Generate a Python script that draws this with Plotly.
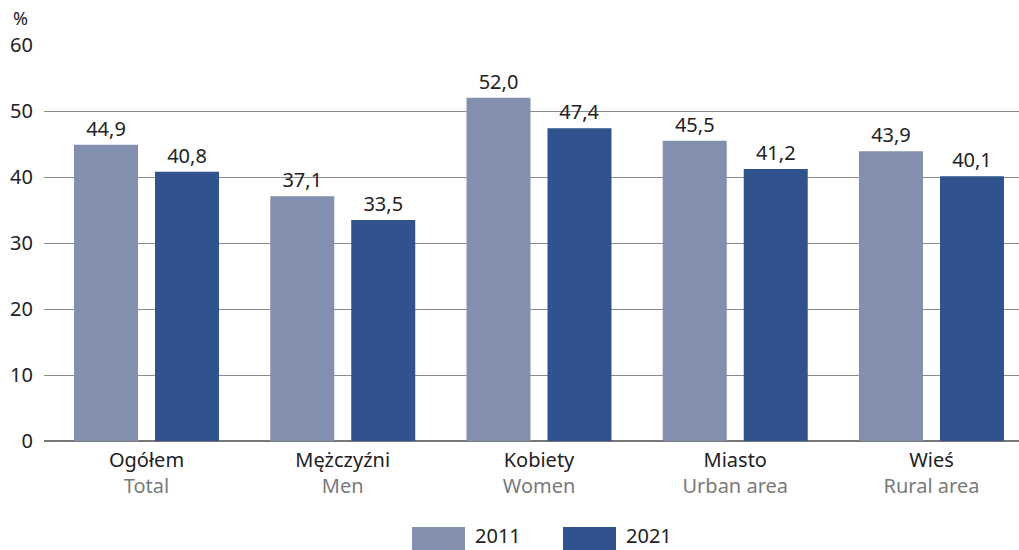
import plotly.graph_objects as go

categories_pl = ["Ogółem", "Mężczyźni", "Kobiety", "Miasto", "Wieś"]
categories_en = ["Total", "Men", "Women", "Urban area", "Rural area"]
values_2011 = [44.9, 37.1, 52.0, 45.5, 43.9]
values_2021 = [40.8, 33.5, 47.4, 41.2, 40.1]
series_names = ["2011", "2021"]
colors = ["#838fae", "#30528f"]
y_ticks = [0, 10, 20, 30, 40, 50, 60]

FONT = "Noto Sans, Open Sans, sans-serif"
FS = 20
L, W = 44, 975

cat_labels = [f"{pl}<br><span style='color:#7a7a7a'>{en}</span>" for pl, en in zip(categories_pl, categories_en)]

def fmt(v):
    return f"{v:.1f}".replace(".", ",")

fig = go.Figure()
for name, vals, col in zip(series_names, [values_2011, values_2021], colors):
    fig.add_trace(go.Bar(
        x=cat_labels, y=vals, name=name, marker=dict(color=col, line=dict(width=0)),
        text=[fmt(v) for v in vals], textposition="outside", cliponaxis=False,
        textfont=dict(family=FONT, size=FS, color="#222222"),
        showlegend=False, hoverinfo="skip",
    ))

fig.update_layout(
    width=1019, height=550,
    margin=dict(l=L, r=0, t=45, b=109, autoexpand=False),
    paper_bgcolor="white", plot_bgcolor="white",
    barmode="group", bargap=0.1745, bargroupgap=0.21,
    font=dict(family=FONT, size=FS, color="#222222"),
    xaxis=dict(showgrid=False, ticks="", tickfont=dict(size=FS, color="#222222"),
               showline=False, ticklabelstandoff=5, range=[-0.5223, 4.446]),
    yaxis=dict(range=[0, 60], tickvals=y_ticks, ticktext=[str(t) for t in y_ticks],
               showgrid=True, gridcolor="#8a8a8a", gridwidth=1,
               zeroline=True, zerolinecolor="#777777", zerolinewidth=2,
               tickfont=dict(size=FS, color="#222222"), ticks="", ticklabelstandoff=10),
    showlegend=False,
)

fig.add_annotation(text="%", xref="paper", yref="paper", x=(20 - L) / W, y=(441 - 18) / 396,
                   xanchor="center", yanchor="middle", showarrow=False,
                   font=dict(size=FS - 2, color="#222222"), borderpad=0)

# custom legend
legend_pos = [(412, 465), (563, 616)]
for (x0, x1), name, col in zip(legend_pos, series_names, colors):
    fig.add_shape(type="rect", xref="paper", yref="paper",
                  x0=(x0 - L) / W, x1=(x1 - L) / W,
                  y0=(441 - 527) / 396, y1=(441 - 550) / 396,
                  fillcolor=col, line=dict(width=0))
    fig.add_annotation(text=name, xref="paper", yref="paper",
                       x=(x1 + 9 - L) / W, y=(441 - 535) / 396,
                       xanchor="left", yanchor="middle", showarrow=False,
                       font=dict(size=FS, color="#222222"), borderpad=0)

fig.write_html("out.html", config={"displayModeBar": False},
               post_script="document.body.style.margin='0';document.body.style.overflow='hidden';")
